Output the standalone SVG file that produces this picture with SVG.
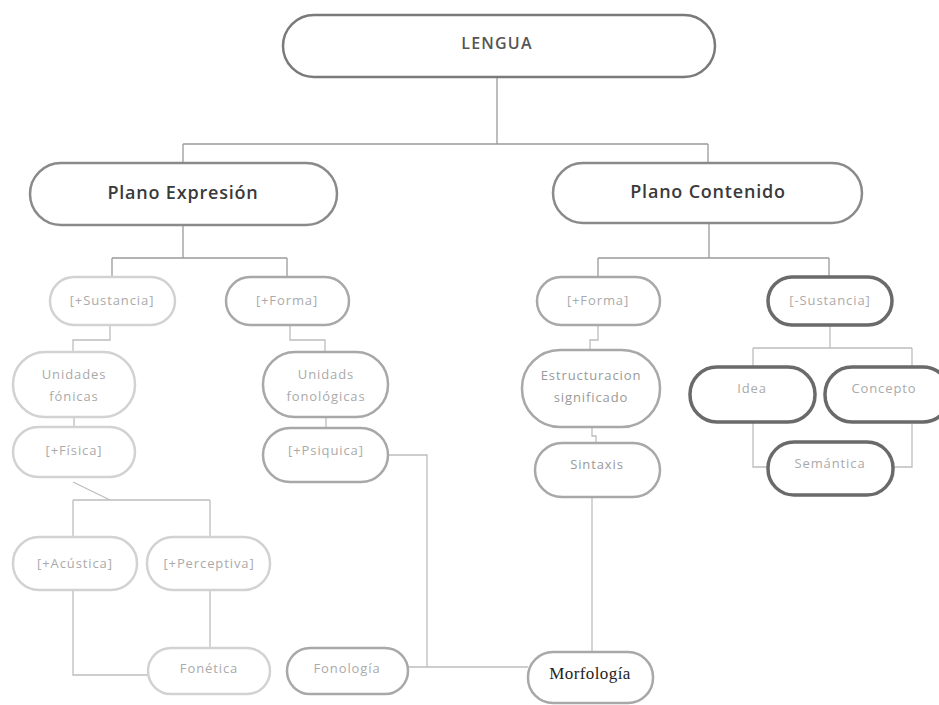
<svg xmlns="http://www.w3.org/2000/svg" width="939" height="705" viewBox="0 0 939 705">
<style>
text{font-family:"Open Sans","Liberation Sans",sans-serif;text-anchor:middle;dominant-baseline:central}
.top{fill:#fff;stroke:#7a7a7a;stroke-width:2.5}
.plano{fill:#fff;stroke:#8a8a8a;stroke-width:2.5}
.light{fill:#fff;stroke:#d2d2d2;stroke-width:2.5}
.mid{fill:#fff;stroke:#a8a8a8;stroke-width:2.5}
.dark{fill:#fff;stroke:#6a6a6a;stroke-width:3.5}
.t1{font-size:16px;font-weight:600;fill:#555;letter-spacing:1.2px}
.t2{font-size:18px;font-weight:600;fill:#3a3a3a;letter-spacing:0.8px}
.t3{font-size:13px;fill:#aaa;letter-spacing:0.9px}
.t4{font-size:13px;fill:#999;letter-spacing:0.9px}
.serif{font-family:"Liberation Serif",serif;font-size:17px;fill:#222;letter-spacing:0.4px}
.c{fill:none;stroke:#bdbdbd;stroke-width:1.3}
.cd{fill:none;stroke:#9a9a9a;stroke-width:1.3}
</style>
<rect width="939" height="705" fill="#fff"/>
<g id="connectors">
<path class="cd" d="M497 77V144M183 144H708M183 144V163M708 144V163"/>
<path class="cd" d="M183 225V258M112 258H287M112 258V277M287 258V277"/>
<path class="cd" d="M709 223V258M598 258H829M598 258V277M829 258V277"/>
<path class="c" d="M110 325V340H73V352M74 417V427"/>
<path class="c" d="M290 325V340H325V352M326 417V428"/>
<path class="c" d="M388 455H427V667M407 667H528"/>
<path class="c" d="M73 482L110 500M73 500H210M73 500V537M210 500V537"/>
<path class="c" d="M73 590V675H148M210 590V648"/>
<path class="c" d="M598 325V340H590V350M592 427V436H596V443M592 497V652"/>
<path class="c" d="M830 325V348M753 348H912M753 348V367M912 348V367"/>
<path class="c" d="M753 422V467H768M912 422V467H893"/>
</g>
<g id="lengua"><rect class="top" x="283" y="15" width="432" height="62" rx="31"/><text class="t1" x="497" y="43">LENGUA</text></g>
<g id="plano-expresion"><rect class="plano" x="30" y="163" width="307" height="62" rx="31"/><text class="t2" x="183" y="192">Plano Expresión</text></g>
<g id="plano-contenido"><rect class="plano" x="553" y="163" width="309" height="60" rx="30"/><text class="t2" x="708" y="191">Plano Contenido</text></g>
<g id="sustancia-e"><rect class="light" x="50" y="277" width="125" height="48" rx="24"/><text class="t3" x="112" y="300">[+Sustancia]</text></g>
<g id="forma-e"><rect class="mid" x="226" y="277" width="123" height="48" rx="24"/><text class="t3" x="287" y="300">[+Forma]</text></g>
<g id="forma-c"><rect class="mid" x="537" y="277" width="123" height="48" rx="24"/><text class="t3" x="598" y="300">[+Forma]</text></g>
<g id="sustancia-c"><rect class="dark" x="768" y="277" width="124" height="48" rx="24"/><text class="t3" x="830" y="300">[-Sustancia]</text></g>
<g id="unidades-fonicas"><rect class="light" x="13" y="352" width="122" height="65" rx="32"/><text class="t3" x="74" y="374">Unidades</text><text class="t3" x="74" y="396">fónicas</text></g>
<g id="fisica"><rect class="light" x="13" y="427" width="122" height="50" rx="25"/><text class="t3" x="74" y="450">[+Física]</text></g>
<g id="unidads-fonologicas"><rect class="mid" x="263" y="352" width="125" height="65" rx="32"/><text class="t3" x="326" y="374">Unidads</text><text class="t3" x="326" y="396">fonológicas</text></g>
<g id="psiquica"><rect class="mid" x="263" y="428" width="125" height="54" rx="27"/><text class="t3" x="326" y="450">[+Psiquica]</text></g>
<g id="acustica"><rect class="light" x="13" y="537" width="124" height="53" rx="26"/><text class="t3" x="75" y="563">[+Acústica]</text></g>
<g id="perceptiva"><rect class="light" x="147" y="537" width="123" height="53" rx="26"/><text class="t3" x="209" y="563">[+Perceptiva]</text></g>
<g id="fonetica"><rect class="light" x="148" y="648" width="122" height="46" rx="23"/><text class="t3" x="209" y="668">Fonética</text></g>
<g id="fonologia"><rect class="mid" x="287" y="648" width="121" height="46" rx="23"/><text class="t3" x="347" y="668">Fonología</text></g>
<g id="morfologia"><rect class="mid" x="528" y="652" width="125" height="51" rx="25"/><text class="serif" x="590" y="673">Morfología</text></g>
<g id="estructuracion"><rect class="mid" x="522" y="350" width="138" height="77" rx="38"/><text class="t4" x="591" y="375">Estructuracion</text><text class="t4" x="591" y="397">significado</text></g>
<g id="sintaxis"><rect class="mid" x="535" y="443" width="125" height="54" rx="27"/><text class="t4" x="597" y="464">Sintaxis</text></g>
<g id="idea"><rect class="dark" x="690" y="367" width="125" height="55" rx="27"/><text class="t3" x="752" y="388">Idea</text></g>
<g id="concepto"><rect class="dark" x="825" y="367" width="125" height="55" rx="27"/><text class="t3" x="884" y="388">Concepto</text></g>
<g id="semantica"><rect class="dark" x="768" y="442" width="125" height="53" rx="26"/><text class="t3" x="830" y="463">Semántica</text></g>
</svg>
